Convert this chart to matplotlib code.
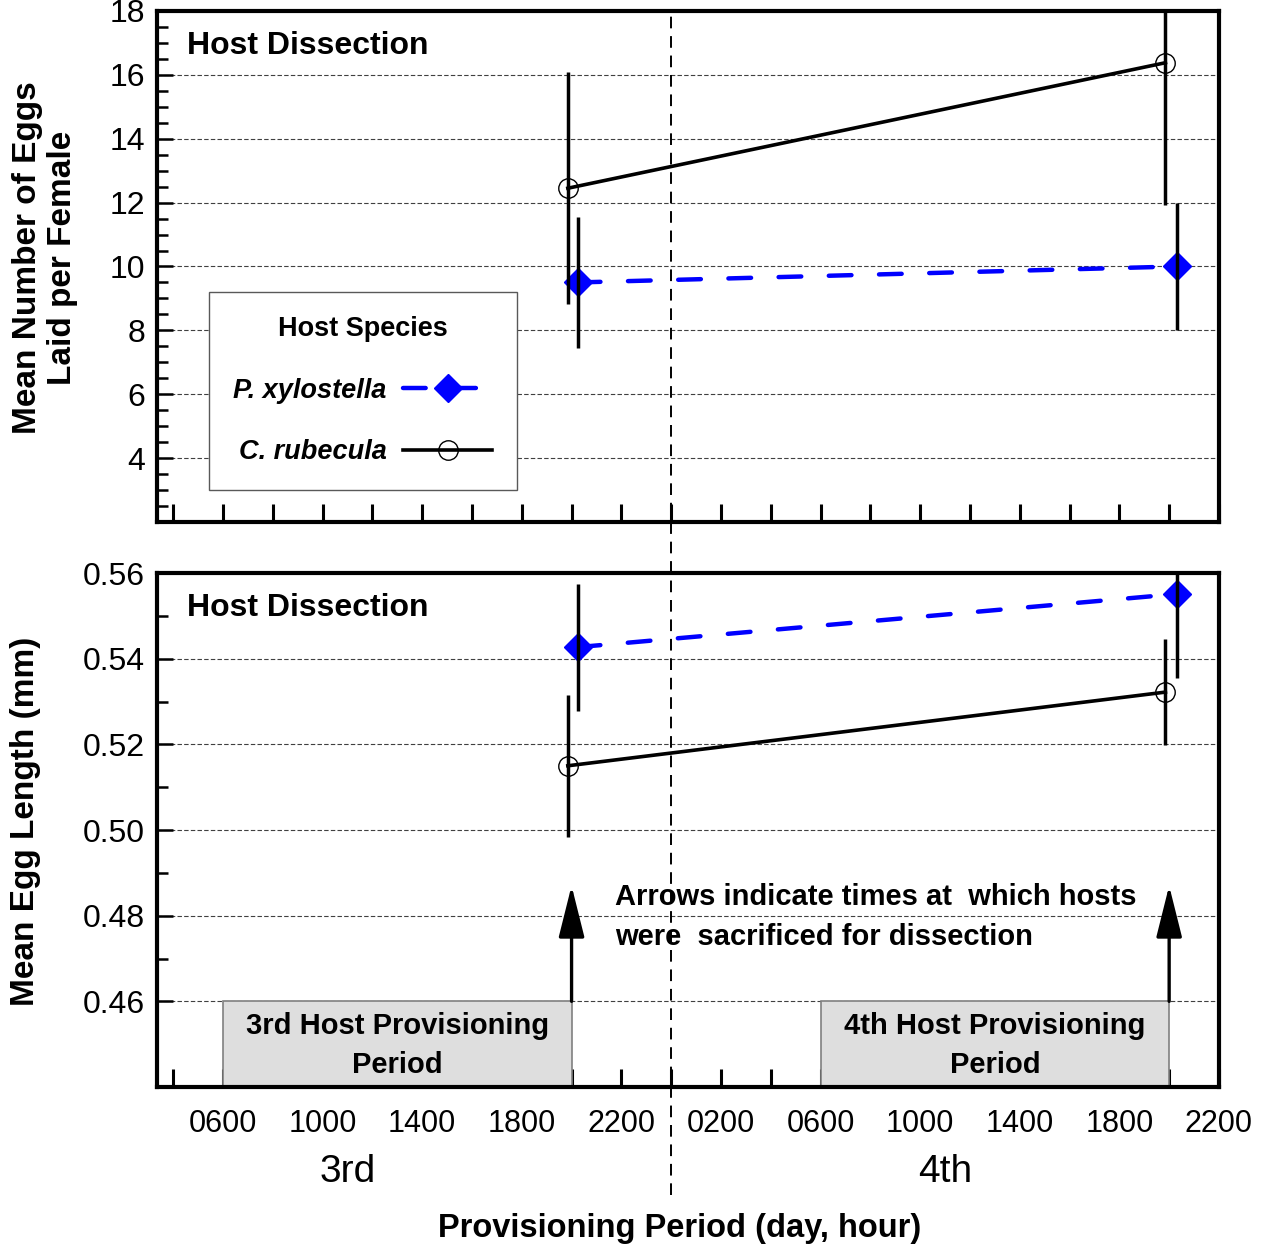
import matplotlib
matplotlib.use("Agg")
import matplotlib.pyplot as plt
import matplotlib.transforms as mtransforms
from matplotlib.patches import Rectangle, FancyArrowPatch
from matplotlib.ticker import MultipleLocator, FixedLocator

plt.rcParams['font.family'] = ['Liberation Sans', 'DejaVu Sans']

# hours counted from 0000 of the 3rd day
label_hours = [6, 10, 14, 18, 22, 26, 30, 34, 38, 42, 46]
hour_labels = ['0600', '1000', '1400', '1800', '2200', '0200',
               '0600', '1000', '1400', '1800', '2200']
tick_hours = [4, 6, 8, 10, 12, 14, 16, 18, 20, 22, 24, 26,
              28, 30, 32, 34, 36, 38, 40, 42, 44, 46]

# P. xylostella (blue diamonds) and C. rubecula (open circles)
px_x = [20.25, 44.3]
cr_x = [19.85, 43.85]
px_eggs = [9.5, 10.0]
px_eggs_err = [2.06, 2.0]
cr_eggs = [12.45, 16.38]
cr_eggs_err = [3.64, 4.44]
px_len = [0.5427, 0.5551]
px_len_err = [0.0148, 0.0196]
cr_len = [0.5150, 0.5322]
cr_len_err = [0.0166, 0.0124]

# provisioning periods and dissection times
period_start = [6, 30]
period_end = [20, 44]
period_text = ['3rd Host Provisioning\nPeriod', '4th Host Provisioning\nPeriod']
dissect_hours = [20, 44]

fig = plt.figure(figsize=(12.65, 12.49), dpi=100)
ax1 = fig.add_axes([0.1241, 0.5821, 0.8395, 0.4091])
ax2 = fig.add_axes([0.1241, 0.1297, 0.8395, 0.4115])

for ax in (ax1, ax2):
    ax.set_xlim(3.35, 46)
    ax.set_xticks(tick_hours)
    ax.tick_params(axis='x', direction='in', length=13, width=2.2, labelsize=22, pad=16)
    ax.tick_params(axis='y', which='major', direction='in', length=11.5, width=1.8,
                   labelsize=23, pad=8.5)
    ax.tick_params(axis='y', which='minor', direction='in', length=8, width=1.8)
    ax.tick_params(top=False, right=False)
    for s in ax.spines.values():
        s.set_linewidth(3)
    ax.grid(axis='y', linestyle=(0, (4, 2)), linewidth=0.8, color='0.25')
    ax.set_axisbelow(True)
    ax.text(0.028, 0.932, 'Host Dissection', transform=ax.transAxes,
            fontsize=23, fontweight='bold', ha='left', va='center')

# top panel: eggs laid
ax1.set_ylim(2, 18)
ax1.set_yticks([4, 6, 8, 10, 12, 14, 16, 18])
ax1.yaxis.set_minor_locator(MultipleLocator(0.5))
ax1.tick_params(labelbottom=False)

hp, = ax1.plot(px_x, px_eggs, color='#0000ff', lw=3.2, linestyle=(0, (5.1, 6.2)),
               dash_capstyle='round', marker='D', ms=14.5, mec='#0000ff', zorder=4,
               label='P. xylostella')
hc, = ax1.plot(cr_x, cr_eggs, color='black', lw=2.6, marker='o', ms=14,
               mfc='none', mec='black', mew=1, zorder=4, label='C. rubecula')
ax1.errorbar(px_x, px_eggs, yerr=px_eggs_err, fmt='none', ecolor='black',
             elinewidth=2.5, capsize=0, zorder=5)
ax1.errorbar(cr_x, cr_eggs, yerr=cr_eggs_err, fmt='none', ecolor='black',
             elinewidth=2.5, capsize=0, zorder=5)

leg = ax1.legend(handles=[hp, hc], loc='lower left', bbox_to_anchor=(0.049, 0.063),
                 borderaxespad=0, markerfirst=False, title='Host Species',
                 prop=dict(weight='bold', style='italic', size=19.5),
                 title_fontproperties=dict(weight='bold', size=19.5),
                 handlelength=3.3, handletextpad=0.6, labelspacing=1.32,
                 borderpad=0.9, fancybox=False, edgecolor='0.35', framealpha=1)
leg.get_frame().set_linewidth(1)
leg.set_zorder(10)

# bottom panel: egg length
ax2.set_ylim(0.44, 0.56)
ax2.set_yticks([0.46, 0.48, 0.50, 0.52, 0.54, 0.56])
ax2.set_yticklabels(['0.46', '0.48', '0.50', '0.52', '0.54', '0.56'])
ax2.yaxis.set_minor_locator(FixedLocator([0.47, 0.49, 0.51, 0.53, 0.55]))
ax2.set_xticklabels([hour_labels[label_hours.index(h)] if h in label_hours else ''
                     for h in tick_hours])

ax2.plot(px_x, px_len, color='#0000ff', lw=3.2, linestyle=(0, (5.1, 6.2)),
         dash_capstyle='round', marker='D', ms=14.5, mec='#0000ff', zorder=4)
ax2.plot(cr_x, cr_len, color='black', lw=2.6, marker='o', ms=14,
         mfc='none', mec='black', mew=1, zorder=4)
ax2.errorbar(px_x, px_len, yerr=px_len_err, fmt='none', ecolor='black',
             elinewidth=2.5, capsize=0, zorder=5)
ax2.errorbar(cr_x, cr_len, yerr=cr_len_err, fmt='none', ecolor='black',
             elinewidth=2.5, capsize=0, zorder=5)

for x0, x1, txt in zip(period_start, period_end, period_text):
    ax2.add_patch(Rectangle((x0, 0.44), x1 - x0, 0.02, facecolor='#dedede',
                            edgecolor='#808080', lw=1.2, zorder=1))
    ax2.text((x0 + x1) / 2, 0.4498, txt, ha='center', va='center', fontsize=21,
             fontweight='bold', linespacing=1.5, zorder=6)

for h in dissect_hours:
    ax2.add_patch(FancyArrowPatch((h, 0.46), (h, 0.487),
                                  arrowstyle='-|>,head_length=32,head_width=8',
                                  mutation_scale=1, lw=2.4, color='black',
                                  shrinkA=0, shrinkB=0, zorder=6))

ax2.text(21.74, 0.4797, 'Arrows indicate times at  which hosts\nwere  sacrificed for dissection',
         ha='left', va='center', fontsize=21, fontweight='bold', linespacing=1.55, zorder=6)

# midnight divider running through both panels
trans = mtransforms.blended_transform_factory(ax2.transData, fig.transFigure)
ax2.plot([24, 24], [0.043, 0.991], transform=trans, color='black', lw=1.4,
         linestyle=(0, (6, 4)), clip_on=False, zorder=7)
ax2.text(11, 0.0616, '3rd', transform=trans, ha='center', va='center', fontsize=28)
ax2.text(35, 0.0616, '4th', transform=trans, ha='center', va='center', fontsize=28)

fig.text(0.5375, 0.0168, 'Provisioning Period (day, hour)', ha='center', va='center',
         fontsize=23.5, fontweight='bold')
fig.text(0.0356, 0.7934, 'Mean Number of Eggs\nLaid per Female', rotation=90,
         ha='center', va='center', fontsize=24, fontweight='bold', multialignment='center')
fig.text(0.0198, 0.3427, 'Mean Egg Length (mm)', rotation=90, ha='center', va='center',
         fontsize=24, fontweight='bold')

fig.savefig('out.png', dpi=100)
